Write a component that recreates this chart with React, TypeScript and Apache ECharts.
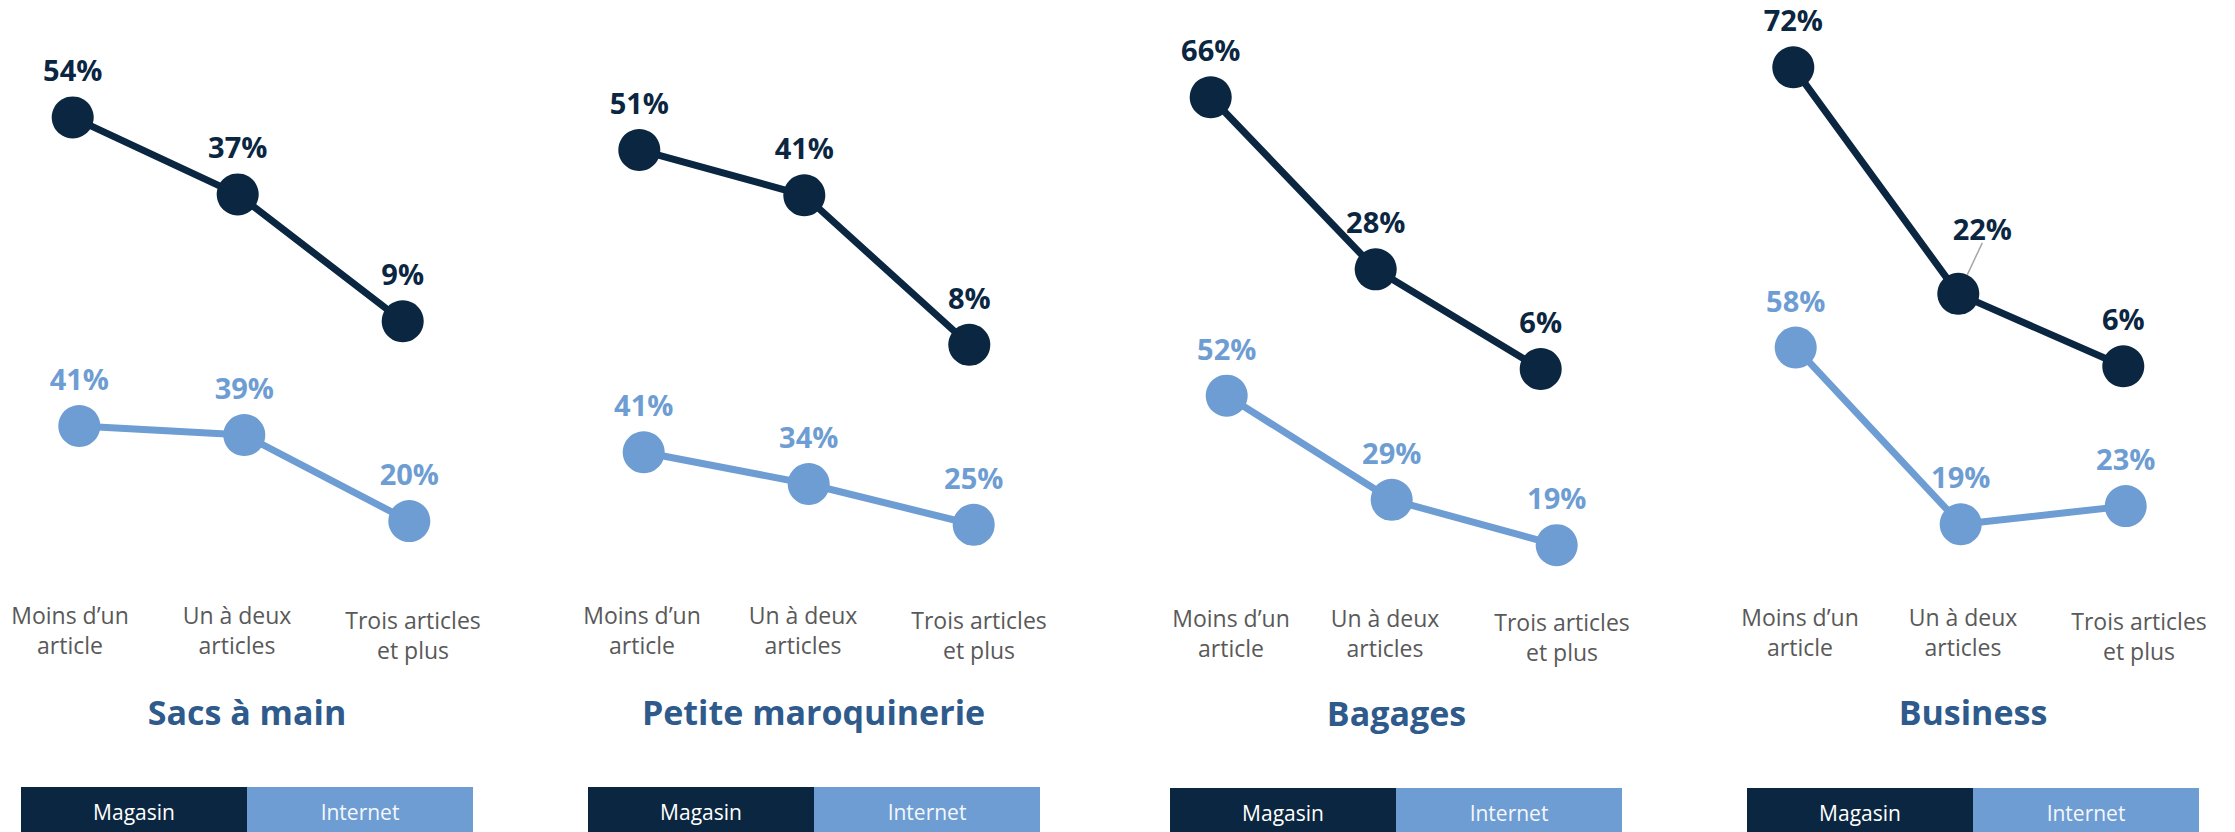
import React, { useEffect, useRef } from "react";
import * as echarts from "echarts";

// ---------- data ----------
const CATEGORIES = ["Moins d’un\narticle", "Un à deux\narticles", "Trois articles\net plus"];
const PANEL_TITLES = ["Sacs à main", "Petite maroquinerie", "Bagages", "Business"];
const SERIES_NAMES = ["Magasin", "Internet"];

const SACS_MAGASIN = [54, 37, 9];
const SACS_INTERNET = [41, 39, 20];
const PETITE_MAGASIN = [51, 41, 8];
const PETITE_INTERNET = [41, 34, 25];
const BAGAGES_MAGASIN = [66, 28, 6];
const BAGAGES_INTERNET = [52, 29, 19];
const BUSINESS_MAGASIN = [72, 22, 6];
const BUSINESS_INTERNET = [58, 19, 23];

const MAGASIN = [SACS_MAGASIN, PETITE_MAGASIN, BAGAGES_MAGASIN, BUSINESS_MAGASIN];
const INTERNET = [SACS_INTERNET, PETITE_INTERNET, BAGAGES_INTERNET, BUSINESS_INTERNET];

// ---------- styles / layout ----------
const NAVY = "#0B2641";
const LIGHT = "#6E9DD3";
const TITLE_COLOR = "#2E5A8C";
const LABEL_GRAY = "#595959";
const FONT = "'Open Sans', 'Liberation Sans', Arial, sans-serif";

const SCALE = 4.53; // px per percentage point
const Y_MAX = 75;
const PLOT_H = Y_MAX * SCALE;
const SPAN = 330;

const LAYOUT = [
  { magX: 72.7, magZero: 362, intX: 79.3, intZero: 611.7, labL: 70, labR: 413, labMid: -4.5, labTop: 600, titleX: 247, titleY: 711.5, legL: 21, legM: 247, legR: 473, legTop: 787 },
  { magX: 639.3, magZero: 381, intX: 643.7, intZero: 638, labL: 642, labR: 979, labMid: -7.5, labTop: 600, titleX: 813.5, titleY: 711.5, legL: 588, legM: 814, legR: 1040, legTop: 787 },
  { magX: 1210.7, magZero: 396.2, intX: 1226.7, intZero: 631.2, labL: 1231, labR: 1562, labMid: -11.5, labTop: 602.5, titleX: 1396.5, titleY: 713, legL: 1170, legM: 1396, legR: 1622, legTop: 788 },
  { magX: 1793.3, magZero: 393.5, intX: 1795.7, intZero: 610.3, labL: 1800, labR: 2139, labMid: -6.5, labTop: 601.5, titleX: 1973, titleY: 712, legL: 1747, legM: 1973, legR: 2199, legTop: 788 },
];

function buildOption() {
  const grid: any[] = [];
  const xAxis: any[] = [];
  const yAxis: any[] = [];
  const series: any[] = [];
  const graphic: any[] = [];

  LAYOUT.forEach((L, p) => {
    // magasin grid
    grid.push({ left: L.magX, top: L.magZero - PLOT_H, width: SPAN, height: PLOT_H, containLabel: false });
    // internet grid
    grid.push({ left: L.intX, top: L.intZero - PLOT_H, width: SPAN, height: PLOT_H, containLabel: false });
    // category label grid
    grid.push({ left: L.labL, top: L.labTop - 10, width: L.labR - L.labL, height: 2, containLabel: false });

    for (let k = 0; k < 2; k++) {
      xAxis.push({ type: "category", gridIndex: 3 * p + k, data: CATEGORIES, boundaryGap: false, show: false });
      yAxis.push({ type: "value", gridIndex: 3 * p + k, min: 0, max: Y_MAX, show: false });
    }
    xAxis.push({
      type: "category",
      gridIndex: 3 * p + 2,
      boundaryGap: false,
      data: CATEGORIES.map((c, i) => ({
        value: c,
        textStyle: {
          padding: i === 1 ? [0, -2 * L.labMid, 0, 0] : i === 2 ? [4.5, 0, 0, 0] : 0,
        },
      })),
      axisLine: { show: false },
      axisTick: { show: false },
      splitLine: { show: false },
      axisLabel: {
        interval: 0,
        margin: 8,
        color: LABEL_GRAY,
        fontFamily: FONT,
        fontSize: 23,
        lineHeight: 30,
        align: "center",
      },
    });
    yAxis.push({ type: "value", gridIndex: 3 * p + 2, min: 0, max: 1, show: false });

    const mk = (name: string, values: number[], axisIdx: number, color: string, isBusinessMag: boolean) => ({
      type: "line",
      name,
      xAxisIndex: axisIdx,
      yAxisIndex: axisIdx,
      clip: false,
      symbol: "circle",
      symbolSize: 42,
      lineStyle: { color, width: 7 },
      itemStyle: { color },
      z: axisIdx % 3 === 0 ? 3 : 2,
      data: values.map((v, i) =>
        isBusinessMag && i === 1
          ? { value: v, labelLine: { show: true, lineStyle: { color: "#A6A6A6", width: 1.5 } } }
          : v
      ),
      label: {
        show: true,
        position: "top",
        distance: 12,
        formatter: "{c}%",
        color,
        fontFamily: FONT,
        fontWeight: "bold",
        fontSize: 29,
      },
      labelLayout: isBusinessMag
        ? (params: any) => (params.dataIndex === 1 ? { dx: 24, dy: -18 } : {})
        : undefined,
    });

    series.push(mk(SERIES_NAMES[0], MAGASIN[p], 3 * p, NAVY, p === 3));
    series.push(mk(SERIES_NAMES[1], INTERNET[p], 3 * p + 1, LIGHT, false));

    // panel title
    graphic.push({
      type: "text",
      x: L.titleX,
      y: L.titleY,
      style: {
        text: PANEL_TITLES[p],
        align: "center",
        verticalAlign: "middle",
        fill: TITLE_COLOR,
        font: `bold 34px ${FONT}`,
      },
    });

    // legend boxes
    graphic.push({ type: "rect", shape: { x: L.legL, y: L.legTop, width: L.legM - L.legL, height: 60 }, style: { fill: NAVY } });
    graphic.push({ type: "rect", shape: { x: L.legM, y: L.legTop, width: L.legR - L.legM, height: 60 }, style: { fill: LIGHT } });
    graphic.push({
      type: "text",
      x: (L.legL + L.legM) / 2,
      y: L.legTop + 25,
      style: { text: SERIES_NAMES[0], align: "center", verticalAlign: "middle", fill: "#FFFFFF", font: `21px ${FONT}` },
    });
    graphic.push({
      type: "text",
      x: (L.legM + L.legR) / 2,
      y: L.legTop + 25,
      style: { text: SERIES_NAMES[1], align: "center", verticalAlign: "middle", fill: "#F4F7FB", font: `21px ${FONT}` },
    });
  });

  return {
    animation: false,
    backgroundColor: "#FFFFFF",
    textStyle: { fontFamily: FONT },
    grid,
    xAxis,
    yAxis,
    series,
    graphic,
  };
}

export default function App() {
  const ref = useRef<HTMLDivElement>(null);
  useEffect(() => {
    document.body.style.margin = "0";
    document.body.style.overflow = "hidden";
    if (!ref.current) return;
    const chart = echarts.init(ref.current, undefined, { renderer: "svg" });
    chart.setOption(buildOption() as any);
    return () => chart.dispose();
  }, []);
  return <div ref={ref} style={{ position: "fixed", left: 0, top: 0, width: 2235, height: 832 }} />;
}
